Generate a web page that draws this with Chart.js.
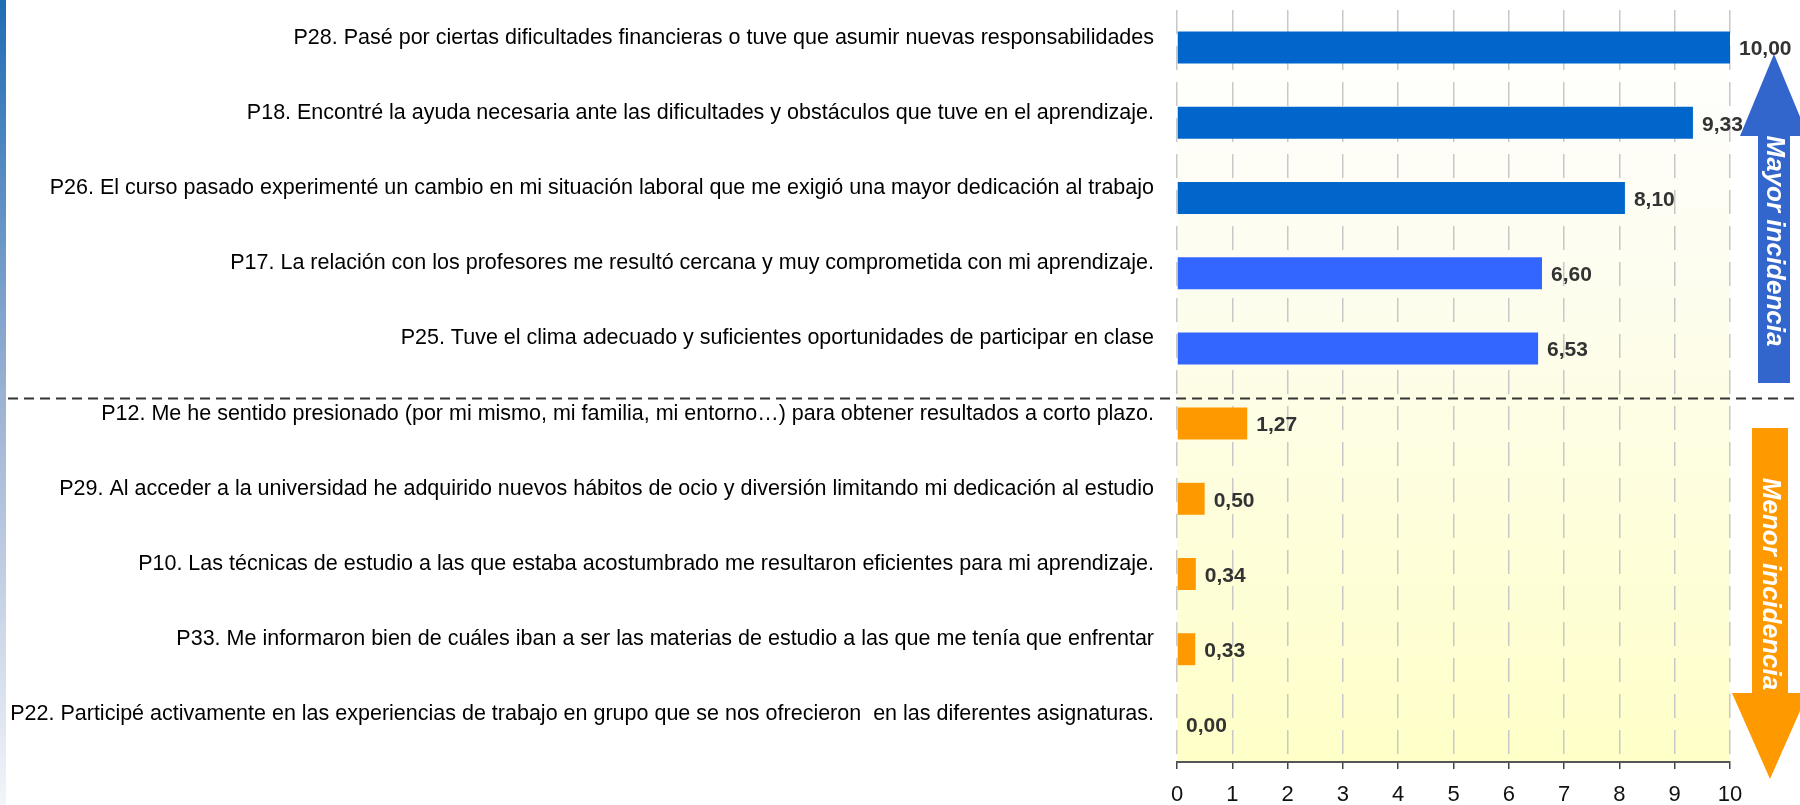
<!DOCTYPE html>
<html>
<head>
<meta charset="utf-8">
<script src="https://cdn.jsdelivr.net/npm/chart.js@4"></script>
<style>
html,body{margin:0;padding:0;background:#fff;}
#wrap{position:relative;width:1800px;height:805px;}
</style>
</head>
<body>
<div id="wrap"><canvas id="c" width="1800" height="805"></canvas></div>
<script>
const categories = [
  "P28. Pasé por ciertas dificultades financieras o tuve que asumir nuevas responsabilidades",
  "P18. Encontré la ayuda necesaria ante las dificultades y obstáculos que tuve en el aprendizaje.",
  "P26. El curso pasado experimenté un cambio en mi situación laboral que me exigió una mayor dedicación al trabajo",
  "P17. La relación con los profesores me resultó cercana y muy comprometida con mi aprendizaje.",
  "P25. Tuve el clima adecuado y suficientes oportunidades de participar en clase",
  "P12. Me he sentido presionado (por mi mismo, mi familia, mi entorno…) para obtener resultados a corto plazo.",
  "P29. Al acceder a la universidad he adquirido nuevos hábitos de ocio y diversión limitando mi dedicación al estudio",
  "P10. Las técnicas de estudio a las que estaba acostumbrado me resultaron eficientes para mi aprendizaje.",
  "P33. Me informaron bien de cuáles iban a ser las materias de estudio a las que me tenía que enfrentar",
  "P22. Participé activamente en las experiencias de trabajo en grupo que se nos ofrecieron  en las diferentes asignaturas."
];
const values = [10.00, 9.33, 8.10, 6.60, 6.53, 1.27, 0.50, 0.34, 0.33, 0.00];
const barColors = ["#0066CC","#0066CC","#0066CC","#3366FF","#3366FF","#FF9900","#FF9900","#FF9900","#FF9900","#FF9900"];
const xTickLabels = ["0","1","2","3","4","5","6","7","8","9","10"];
const arrowLabels = ["Mayor incidencia", "Menor incidencia"];

const fmt = v => v.toFixed(2).replace('.', ',');

const decor = {
  id: 'decor',
  beforeDraw(chart) {
    const {ctx, chartArea: a} = chart;
    ctx.save();
    const lg = ctx.createLinearGradient(0, 0, 0, 805);
    lg.addColorStop(0, '#1F6DB5');
    lg.addColorStop(0.5, '#9DB3D3');
    lg.addColorStop(1, '#F2F4F9');
    ctx.fillStyle = lg;
    ctx.fillRect(0, 0, 6, 805);
    const pg = ctx.createLinearGradient(0, a.top, 0, a.bottom);
    pg.addColorStop(0, '#FFFFFF');
    pg.addColorStop(0.35, '#FDFDF0');
    pg.addColorStop(1, '#FFFFC8');
    ctx.fillStyle = pg;
    ctx.fillRect(a.left, a.top, a.right - a.left, a.bottom - a.top);
    ctx.restore();
  },
  afterDatasetsDraw(chart) {
    const {ctx} = chart;
    const meta = chart.getDatasetMeta(0);
    const yScale = chart.scales.y;
    ctx.save();
    // dashed separator between groups
    const ySep = yScale.getPixelForValue(5) - 25;
    ctx.strokeStyle = '#333333';
    ctx.lineWidth = 2;
    ctx.setLineDash([10, 6]);
    ctx.beginPath();
    ctx.moveTo(8, ySep);
    ctx.lineTo(1796, ySep);
    ctx.stroke();
    ctx.setLineDash([]);
    // blue up arrow
    ctx.fillStyle = '#3366CC';
    ctx.beginPath();
    ctx.moveTo(1774, 54);
    ctx.lineTo(1808, 136);
    ctx.lineTo(1790, 136);
    ctx.lineTo(1790, 383);
    ctx.lineTo(1758, 383);
    ctx.lineTo(1758, 136);
    ctx.lineTo(1740, 136);
    ctx.closePath();
    ctx.fill();
    // orange down arrow
    ctx.fillStyle = '#FF9900';
    ctx.beginPath();
    ctx.moveTo(1752, 428);
    ctx.lineTo(1788, 428);
    ctx.lineTo(1788, 693);
    ctx.lineTo(1808, 693);
    ctx.lineTo(1770, 779);
    ctx.lineTo(1732, 693);
    ctx.lineTo(1752, 693);
    ctx.closePath();
    ctx.fill();
    // arrow texts
    ctx.fillStyle = '#FFFFFF';
    ctx.font = 'italic bold 26px "Liberation Sans", Arial, sans-serif';
    ctx.textAlign = 'center';
    ctx.textBaseline = 'middle';
    ctx.save();
    ctx.translate(1774, 241);
    ctx.rotate(Math.PI / 2);
    ctx.fillText(arrowLabels[0], 0, 0);
    ctx.restore();
    ctx.save();
    ctx.translate(1770, 584);
    ctx.rotate(Math.PI / 2);
    ctx.fillText(arrowLabels[1], 0, 0);
    ctx.restore();
    // value labels
    ctx.font = 'bold 21px "Liberation Sans", Arial, sans-serif';
    ctx.fillStyle = '#333333';
    ctx.textAlign = 'left';
    ctx.textBaseline = 'middle';
    meta.data.forEach((bar, i) => {
      ctx.fillText(fmt(values[i]), bar.x + 9, bar.y + 2);
    });
    ctx.restore();
  }
};

new Chart(document.getElementById('c'), {
  type: 'bar',
  data: {
    labels: categories,
    datasets: [{
      data: values,
      backgroundColor: barColors,
      borderWidth: 0,
      barPercentage: 0.425,
      categoryPercentage: 1.0
    }]
  },
  options: {
    indexAxis: 'y',
    responsive: false,
    animation: false,
    devicePixelRatio: 1,
    layout: { padding: { top: 10, right: 70, left: 0, bottom: 0 } },
    plugins: { legend: { display: false }, tooltip: { enabled: false } },
    scales: {
      x: {
        min: 0, max: 10,
        afterFit(s) { s.height = 43; },
        ticks: {
          stepSize: 1,
          autoSkip: false,
          maxRotation: 0,
          padding: 13,
          color: '#111111',
          font: { family: '"Liberation Sans", Arial, sans-serif', size: 22 },
          callback: (v, i) => xTickLabels[i]
        },
        grid: {
          color: '#C8C8C8',
          lineWidth: 1.5,
          drawTicks: true,
          tickLength: 7,
          tickColor: '#444444',
          tickWidth: 1.5
        },
        border: { display: true, color: '#555555', width: 2, dash: [24, 12] }
      },
      y: {
        afterFit(s) { s.width = 1177; s.paddingTop = 0; s.paddingBottom = 0; },
        ticks: {
          autoSkip: false,
          padding: 23,
          labelOffset: -10,
          color: '#000000',
          font: { family: '"Liberation Sans", Arial, sans-serif', size: 21.5 }
        },
        grid: { display: false, drawTicks: false },
        border: { display: false }
      }
    }
  },
  plugins: [decor]
});
</script>
</body>
</html>
